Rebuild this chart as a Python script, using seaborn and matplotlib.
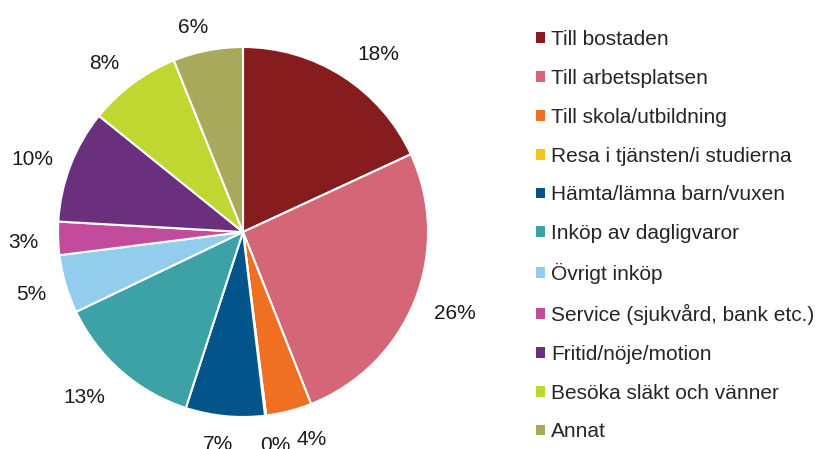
import matplotlib
matplotlib.use('Agg')
import numpy as np
import matplotlib.pyplot as plt
import seaborn as sns
from matplotlib.patches import Patch

# ärendefördelning (andel resor, %)
kategorier = ['Till bostaden', 'Till arbetsplatsen', 'Till skola/utbildning',
              'Resa i tjänsten/i studierna', 'Hämta/lämna barn/vuxen',
              'Inköp av dagligvaror', 'Övrigt inköp',
              'Service (sjukvård, bank etc.)', 'Fritid/nöje/motion',
              'Besöka släkt och vänner', 'Annat']
andelar = [18.1, 25.9, 4.0, 0.1, 6.9, 12.9, 5.1, 2.9, 9.9, 8.1, 6.1]
farger = ['#871C1E', '#D56677', '#F07023', '#F9C21A', '#02548B', '#3CA2A6',
          '#92CDEE', '#C24C9B', '#6A307E', '#C1D731', '#A8A95B']

sns.set_theme(style='white')
plt.rcParams['font.family'] = ['Liberation Sans', 'DejaVu Sans']
palett = sns.color_palette(farger)

fig = plt.figure(figsize=(8.16, 4.49), dpi=100)
# pie på vänster sida, radie ca 185 px
ax = fig.add_axes([58 / 816, 32 / 449, 370 / 816, 370 / 449])
wedges, _, pcts = ax.pie(andelar, colors=palett, startangle=90, counterclock=False,
                         radius=1, autopct='%1.0f%%', pctdistance=1.15,
                         wedgeprops=dict(edgecolor='white', linewidth=1.5),
                         textprops=dict(fontsize=15, color='#1a1a1a'))
ax.set_xlim(-1, 1)
ax.set_ylim(-1, 1)
ax.set_aspect('equal')

# etiketter strax utanför kanten, med små justeringar som i Excel-originalet
justering = [(0.085, -0.005), (0.03, -0.016), (0.075, -0.01), (0.03, -0.015),
             (-0.016, -0.01), (-0.065, -0.032), (0.005, -0.016), (0.011, -0.016),
             (-0.016, -0.022), (-0.038, -0.011), (-0.043, -0.016)]
for w, t, (dx, dy) in zip(wedges, pcts, justering):
    th = np.deg2rad((w.theta1 + w.theta2) / 2)
    c, s = np.cos(th), np.sin(th)
    t.set_position((1.2 * c + dx, 1.145 * s + dy))

handles = [Patch(facecolor=c, edgecolor='none') for c in palett]
fig.legend(handles, kategorier, loc='upper left', bbox_to_anchor=(528 / 816, 1 - 22 / 449),
           frameon=False, fontsize=15, handlelength=0.42, handleheight=0.42,
           handletextpad=0.3, labelspacing=0.95, borderaxespad=0)

plt.savefig('out.png', dpi=100)
plt.close()
